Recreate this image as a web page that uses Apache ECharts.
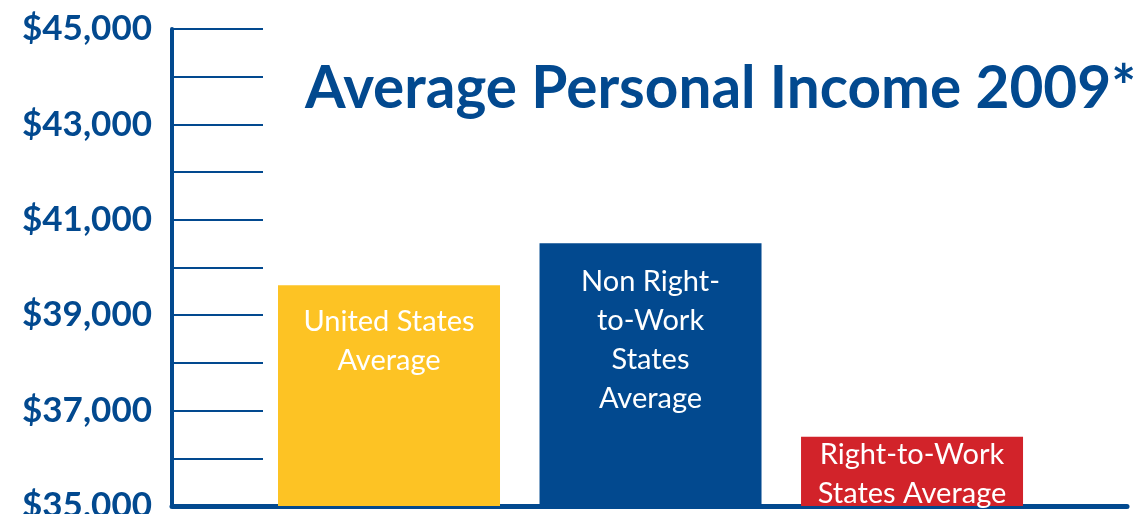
<!DOCTYPE html>
<html>
<head>
<meta charset="utf-8">
<script src="https://cdn.jsdelivr.net/npm/echarts@6/dist/echarts.min.js"></script>
<style>
html,body{margin:0;padding:0;background:#fff;}
#c{width:1140px;height:514px;}
</style>
</head>
<body>
<div id="c"></div>
<script>
var titleText = 'Average Personal Income 2009*';
var categories = ['United States\nAverage', 'Non Right-\nto-Work\nStates\nAverage', 'Right-to-Work\nStates Average'];
var values = [39630, 40510, 36450];
var barColors = ['#FDC324', '#02498F', '#D2232A'];
var labelOffsets = [17, 19, -2];
var yMin = 35000, yMax = 45000, yStep = 1000, labelStep = 2000;

var BLUE = '#02498F';
var FONT = 'Lato, "Open Sans", sans-serif';

var chart = echarts.init(document.getElementById('c'));
chart.setOption({
  animation: false,
  title: {
    text: titleText,
    left: 300, top: 55,
    textStyle: {color: BLUE, fontSize: 58.5, fontWeight: 'bold', fontFamily: FONT}
  },
  grid: {left: 172, right: 13, top: 29, bottom: 8, containLabel: false, outerBoundsMode: 'none'},
  xAxis: {
    type: 'value', min: -0.8298, max: 2.822,
    axisLine: {show: true, onZero: false, lineStyle: {color: BLUE, width: 5}},
    axisTick: {show: false}, axisLabel: {show: false}, splitLine: {show: false}
  },
  yAxis: {
    type: 'value', min: yMin, max: yMax, interval: yStep,
    axisLine: {show: true, onZero: false, lineStyle: {color: BLUE, width: 4}},
    axisTick: {show: true, inside: true, length: 91, lineStyle: {color: BLUE, width: 2}},
    splitLine: {show: false},
    axisLabel: {
      margin: 20, color: BLUE, fontSize: 35, fontWeight: 'bold', fontFamily: FONT,
      hideOverlap: false,
      formatter: function (v) { return (v - yMin) % labelStep === 0 ? '$' + v.toLocaleString('en-US') : ''; }
    }
  },
  series: [{
    type: 'bar',
    barWidth: 222,
    data: values.map(function (v, i) {
      return {
        value: [i, v],
        itemStyle: {color: barColors[i]},
        label: {
          show: true, position: 'insideTop', distance: labelOffsets[i],
          formatter: categories[i],
          color: '#fff', fontSize: 29, lineHeight: 39, fontFamily: FONT
        }
      };
    })
  }]
});
</script>
</body>
</html>
